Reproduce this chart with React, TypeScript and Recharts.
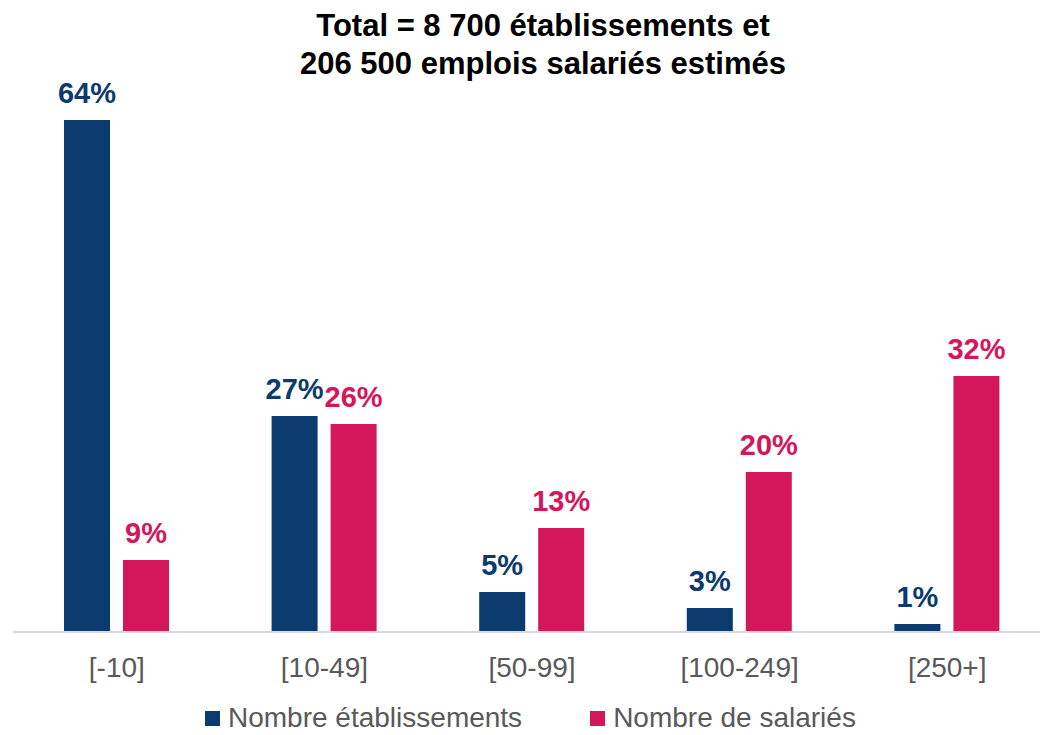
import { BarChart, Bar, XAxis, YAxis, LabelList } from 'recharts';

const categories = ['[-10]', '[10-49]', '[50-99]', '[100-249]', '[250+]'];
const etablissements = [64, 27, 5, 3, 1];
const salaries = [9, 26, 13, 20, 32];
const seriesNames = ['Nombre établissements', 'Nombre de salariés'];
const titleLines = ['Total = 8 700 établissements et', '206 500 emplois salariés estimés'];

const blue = '#0b3a6e';
const pink = '#d4175a';
const grey = '#595959';
const font = '"Liberation Sans", Arial, sans-serif';

const data = categories.map((name, i) => ({
    name,
    etab: etablissements[i],
    sal: salaries[i]
}));

function App() {
    return <div style={{position: 'absolute', left: 0, top: 0, width: 1040, height: 735, overflow: 'hidden', background: '#fff', fontFamily: font}}>
        <div style={{position: 'absolute', top: 7, left: 23, width: 1040, textAlign: 'center', fontWeight: 'bold', fontSize: 31, lineHeight: '38px', color: '#000'}}>
            {titleLines.map(l => <div key={l}>{l}</div>)}
        </div>
        <BarChart width={1062} height={735} data={data}
                  margin={{top: 72, right: 11, left: 13, bottom: 43}}
                  barSize={46} barGap={13}>
            <XAxis dataKey="name" height={60} tickLine={false} tickMargin={19}
                   axisLine={{stroke: '#d9d9d9', strokeWidth: 2}}
                   tick={{fill: grey, fontSize: 28, fontFamily: font}}/>
            <YAxis hide domain={[0, 70]}/>
            <Bar dataKey="etab" fill={blue} isAnimationActive={false}>
                <LabelList dataKey="etab" position="top" offset={17} formatter={(v: any) => v + '%'}
                           style={{fill: blue, fontSize: 29, fontWeight: 'bold', fontFamily: font}}/>
            </Bar>
            <Bar dataKey="sal" fill={pink} isAnimationActive={false}>
                <LabelList dataKey="sal" position="top" offset={17} formatter={(v: any) => v + '%'}
                           style={{fill: pink, fontSize: 29, fontWeight: 'bold', fontFamily: font}}/>
            </Bar>
        </BarChart>
        <div style={{position: 'absolute', top: 702, left: 205, display: 'flex', alignItems: 'center', fontSize: 28, lineHeight: '32px', color: grey, whiteSpace: 'nowrap'}}>
            {seriesNames.map((n, i) => <div key={n} style={{display: 'flex', alignItems: 'center', marginRight: i === 0 ? 68 : 0}}>
                <span style={{display: 'inline-block', width: 15, height: 15, background: i === 0 ? blue : pink, marginRight: 8}}/>
                <span>{n}</span>
            </div>)}
        </div>
    </div>
}

export default App
